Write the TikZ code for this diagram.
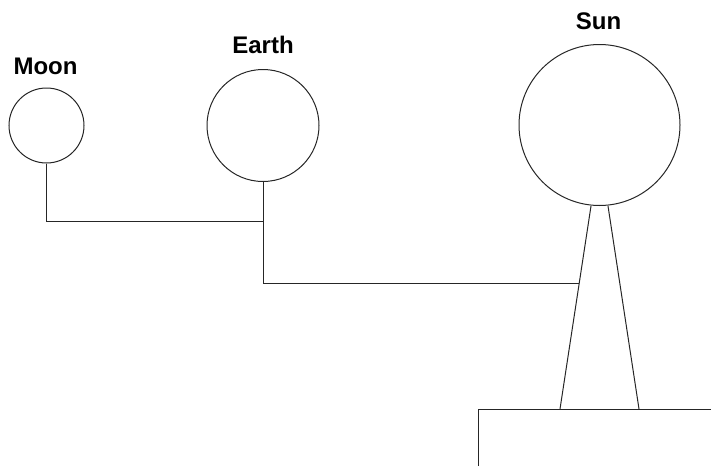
\documentclass[tikz,border=0pt]{standalone}
\usepackage{fontspec}
\setmainfont{Liberation Sans}
\usepackage{tikz}
\tikzset{
    body/.style={circle,draw,inner sep=0pt},
    bodylabel/.style={anchor=base,font=\fontsize{24}{28}\selectfont\bfseries},
    link/.style={draw=black!85,line width=1pt}
}

\begin{document}
\begin{tikzpicture}[x=1pt,y=-1pt]
\useasboundingbox (0,0) rectangle (711,466);
\begin{scope}[every node/.style={body,line width=1pt,draw=black!85}]
\node[minimum size=75pt] (moon) at (46.5, 125.5) {};
\node[minimum size=112pt] (earth) at (263, 125.5) {};
\node[minimum size=161pt] (sun) at (599.5, 125) {};
\end{scope}

\node[bodylabel] (moonlabel) at (45.5, 74) {Moon};
\node[bodylabel] (earthlabel) at (263, 53) {Earth};
\node[bodylabel] (sunlabel) at (598.5, 29) {Sun};

% stand under the sun
\coordinate (stl) at (591, 206);
\coordinate (str) at (608, 206);
\coordinate (sbl) at (560, 409);
\coordinate (sbr) at (639, 409);
\draw[link] (stl) -- coordinate[pos=0.38] (hook) (sbl);
\draw[link] (str) -- (sbr);

% base
\coordinate (basetop) at (478, 409);
\coordinate (baseend) at (711, 409);
\coordinate (basefoot) at (478, 466);
\draw[link] (basefoot) -- (basetop) -- (baseend);

% connectors
\coordinate (ejoin) at (263, 221);
\draw[link] (moon.south) |- (ejoin);
\draw[link] (earth.south) |- (hook);

\end{tikzpicture}
\end{document}
